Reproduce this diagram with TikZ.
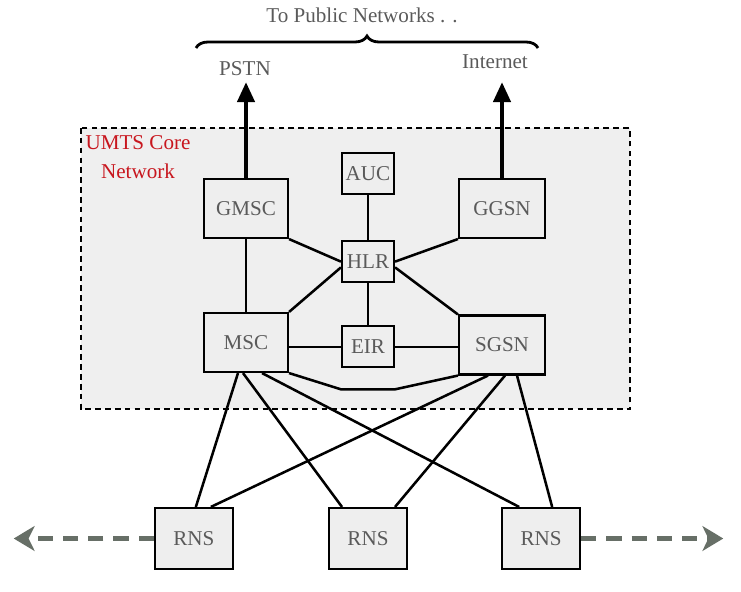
\documentclass[tikz,border=0pt]{standalone}
\usepackage{fontspec}
\setmainfont{Liberation Serif}
\usetikzlibrary{
  positioning,
  arrows.meta,
  decorations.pathreplacing
}
\definecolor{boxgray}{HTML}{EEEEEE}
\definecolor{coregray}{HTML}{EFEFEF}
\definecolor{labelgray}{HTML}{5A5A5A}
\definecolor{umtsred}{HTML}{C8161E}
\definecolor{roamgray}{HTML}{676F67}
\tikzset{
  unit/.style = {draw, line width=1.5pt, fill=boxgray, text=labelgray,
    minimum width=2.1cm, minimum height=1.475cm, inner sep=0pt},
  smallunit/.style = {unit, minimum width=1.3cm, minimum height=1.025cm},
  rns/.style = {unit, minimum width=1.95cm, minimum height=1.525cm},
  link/.style = {line width=1.8pt},
  uplink/.style = {line width=3.2pt, -{Triangle[length=0.5cm,width=0.42cm]}},
  roam/.style = {roamgray, line width=3.8pt, dash pattern=on 0.38cm off 0.25cm,
    -{Stealth[length=0.52cm,width=0.62cm,inset=0.15cm]}}
}

\begin{document}
\begin{tikzpicture}[x=0.025cm, y=-0.025cm, font=\fontsize{15}{20.5}\selectfont]
    \useasboundingbox (0,0) rectangle (741,591);

    % core network area
    \draw[fill=coregray, line width=1.1pt, dash pattern=on 4pt off 3pt] (81,128) rectangle (630,409);
    \node[umtsred, align=center] (core) at (138,157) {UMTS Core\\Network};

    \node[unit] (gmsc) at (246,208.5) {GMSC};
    \node[smallunit] (auc) at (368,173.5) {AUC};
    \node[unit, minimum width=2.15cm] (ggsn) at (502,208.5) {GGSN};
    \node[smallunit, below = 1.125cm of auc] (hlr) {HLR};
    \node[unit] (msc) at (246,342.5) {MSC};
    \node[smallunit, below = 1.05cm of hlr] (eir) {EIR};
    \node[unit, minimum width=2.15cm] (sgsn) at (502,345) {SGSN};

    % radio network subsystems
    \node[rns] (rns2) at (368,538.5) {RNS};
    \node[rns, left = 2.35cm of rns2] (rns1) {RNS};
    \node[rns, right = 2.325cm of rns2] (rns3) {RNS};

    % public networks
    \node[text=labelgray] (pstn) at (245,69) {PSTN};
    \node[text=labelgray] (inet) at (495,62) {Internet};
    \node[text=labelgray] (public) at (362,15) {To Public Networks . .};
    \coordinate (braceL) at (196,48);
    \coordinate (braceR) at (538,48);
    \draw[decorate, decoration={brace, amplitude=0.3cm}, line width=2pt] (braceL) -- (braceR);

    \draw[uplink] (gmsc.north) -- (246,82);
    \draw[uplink] (ggsn.north) -- (ggsn.north |- 0,82);

    % core links
    \draw[link] (gmsc) -- (msc);
    \draw[link] (gmsc.south east) -- (hlr.west);
    \draw[link] (ggsn.south west) -- (hlr.east);
    \draw[link] (auc) -- (hlr);
    \draw[link] (hlr) -- (eir);
    \draw[link] (msc.north east) -- (hlr.192);
    \draw[link] (sgsn.north west) -- (hlr.348);
    \draw[link] (eir.west) -- (eir.west -| msc.east);
    \draw[link] (eir.east) -- (eir.east -| sgsn.west);
    \draw[link] (msc.south east) -- ([yshift=-0.525cm]eir.south west)
      -- ([yshift=-0.525cm]eir.south east) -- (sgsn.south west);

    % access links
    \draw[link] ([xshift=-0.2cm]msc.south) -- ([xshift=0.05cm]rns1.north);
    \draw[link] ([xshift=-0.075cm]msc.south) -- ([xshift=-0.65cm]rns2.north);
    \draw[link] ([xshift=0.4cm]msc.south) -- ([xshift=-0.55cm]rns3.north);
    \draw[link] ([xshift=-0.35cm]sgsn.south) -- ([xshift=0.425cm]rns1.north);
    \draw[link] ([xshift=0.075cm]sgsn.south) -- ([xshift=0.675cm]rns2.north);
    \draw[link] ([xshift=0.375cm]sgsn.south) -- ([xshift=0.275cm]rns3.north);

    % links to other networks
    \coordinate[left = 3.5cm of rns1] (farwest);
    \coordinate[right = 3.55cm of rns3] (fareast);
    \draw[roam] (rns1.west) -- (farwest);
    \draw[roam] (rns3.east) -- (fareast);
\end{tikzpicture}
\end{document}
